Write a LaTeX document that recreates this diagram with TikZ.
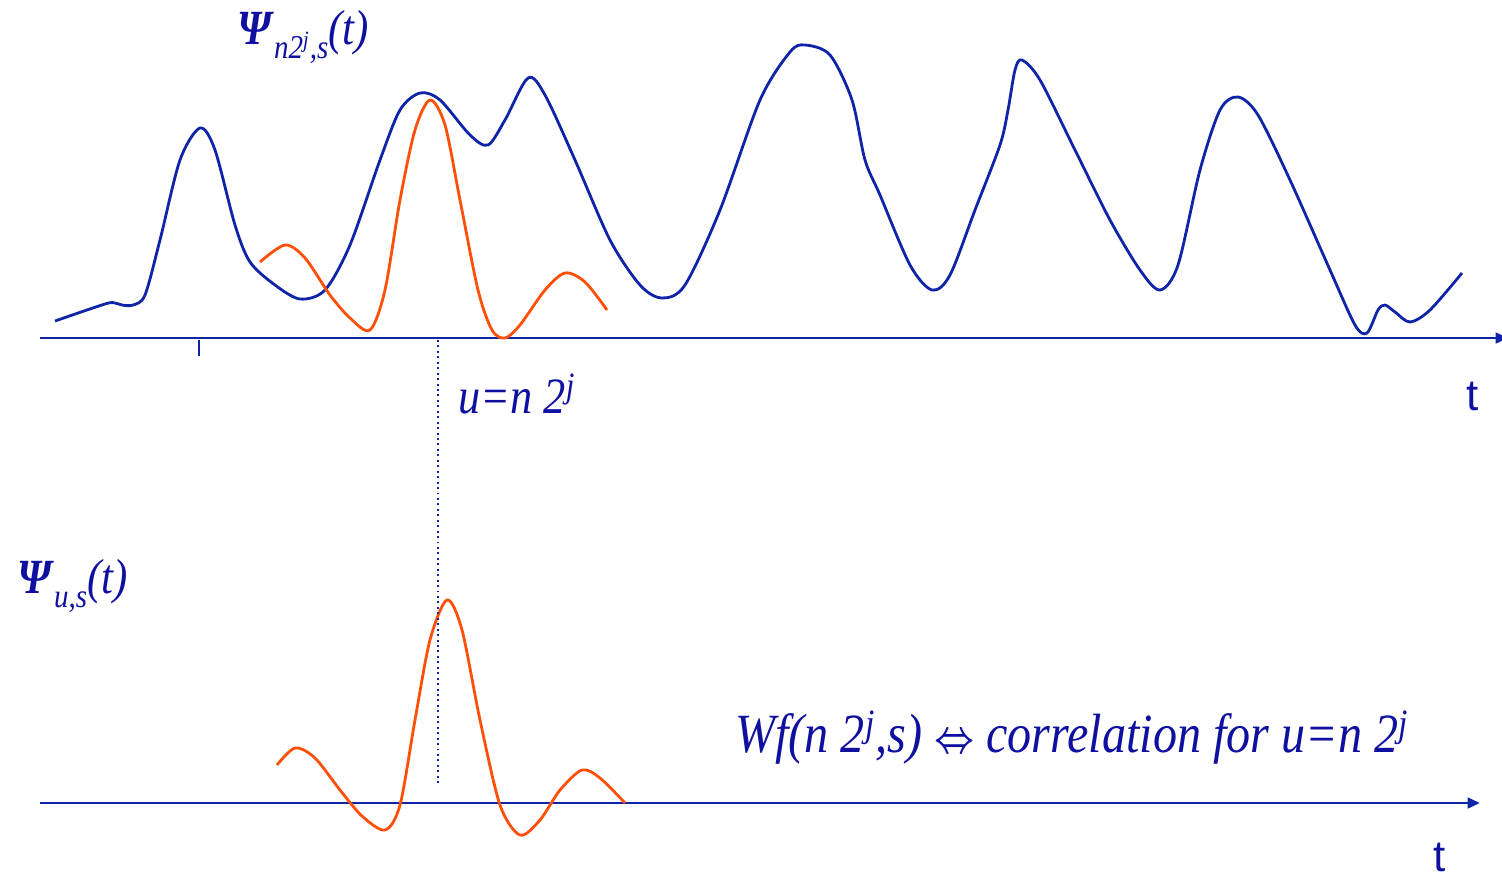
\documentclass[tikz,border=0pt]{standalone}
\usepackage{fontspec}
\setmainfont{Liberation Serif}
\newfontfamily\lbl{Liberation Serif}[FakeStretch=0.87]
\newfontfamily\tfont{Liberation Sans}
\usetikzlibrary{arrows.meta}
\definecolor{testo}{RGB}{16,16,160}
\definecolor{curva}{RGB}{16,36,168}
\definecolor{onda}{RGB}{255,80,10}
\tikzset{
  asse/.style={curva,line width=1.6pt},
  segnale/.style={curva,line width=1.6pt,smooth,tension=0.5},
  wavelet/.style={onda,line width=1.6pt,smooth,tension=0.5},
  etichetta/.style={anchor=base west,inner sep=0pt,text=testo},
  tlabel/.style={anchor=base,inner sep=0pt,text=testo,font=\tfont\fontsize{25}{28}\selectfont}
}
\newcommand{\psibig}{\textbf{\textit{Ψ}}}
\begin{document}
\begin{tikzpicture}[x=0.02cm,y=-0.02cm]
        \useasboundingbox(0,0)rectangle(1502,880);
        %assi
        \coordinate(o1)at(40,338);
        \coordinate(e1)at(1508,338);
        \coordinate(o2)at(40,803);
        \coordinate(e2)at(1480,803);
        \draw[asse,-{Triangle[length=7pt,width=6pt]}](o1)--(e1);
        \draw[asse,-{Triangle[length=7pt,width=6pt]}](o2)--(e2);
        \coordinate(tick)at(199,340);
        \draw[asse](tick)--++(0,16);
        %segnale f(t)
        \draw[segnale]plot coordinates{(55,321)(105,304)(115,303)(122,305)(133,305)(145,295)(160,240)(180,160)(200,128)(215,150)(235,225)(250,262)(275,285)(300,299)(325,290)(350,245)(380,160)(400,110)(420,93)(440,100)(470,135)(488,145)(505,120)(528,78)(545,95)(575,160)(610,240)(640,285)(662,298)(685,285)(720,210)(760,100)(790,52)(805,45)(830,55)(852,100)(865,160)(880,195)(910,265)(932,290)(950,275)(975,210)(1000,145)(1008,110)(1015,70)(1022,60)(1040,80)(1075,150)(1110,220)(1140,270)(1160,290)(1178,265)(1200,170)(1220,110)(1238,97)(1258,115)(1290,180)(1330,270)(1355,325)(1367,333)(1378,310)(1385,305)(1395,312)(1410,322)(1430,310)(1462,273)};
        %ondina in alto
        \draw[wavelet]plot coordinates{(260,262)(285,245)(305,258)(330,295)(350,318)(370,330)(385,290)(400,200)(415,130)(430,100)(445,125)(460,200)(478,290)(492,330)(505,338)(520,325)(545,290)(565,273)(585,282)(607,310)};
        %ondina in basso
        \draw[wavelet]plot coordinates{(277,765)(295,748)(315,758)(340,790)(362,816)(385,830)(400,805)(415,720)(430,640)(447,600)(462,630)(480,720)(500,805)(520,835)(540,820)(560,790)(582,770)(600,778)(625,803)};
        %linea tratteggiata
        \coordinate(u1)at(438,340);
        \coordinate(u2)at(438,785);
        \draw[curva,line width=1.1pt,dotted](u1)--(u2);
        %etichette
        \node[etichetta](psitop)at(237,44){\lbl\fontsize{28}{32}\selectfont\psibig\raisebox{-8.5pt}{\fontsize{19}{22}\selectfont\textit{n2\textsuperscript{j},s}}\textit{(t)}};
        \node[etichetta](psibot)at(17,593){\lbl\fontsize{28}{32}\selectfont\psibig\raisebox{-8.5pt}{\fontsize{19}{22}\selectfont\textit{u,s}}\textit{(t)}};
        \node[etichetta](ulab)at(458,413){\lbl\fontsize{29}{34}\selectfont\textit{u=n 2\textsuperscript{j}}};
        \node[etichetta](wf)at(735,752){\lbl\fontsize{31.5}{36}\selectfont\textit{Wf(n 2\textsuperscript{j},s)} \scalebox{0.8}[1.05]{\boldmath$\Leftrightarrow$} \textit{correlation for u=n 2\textsuperscript{j}}};
        \node[tlabel](t1)at(1473,410){t};
        \node[tlabel](t2)at(1440,871){t};
    \end{tikzpicture}
\end{document}
